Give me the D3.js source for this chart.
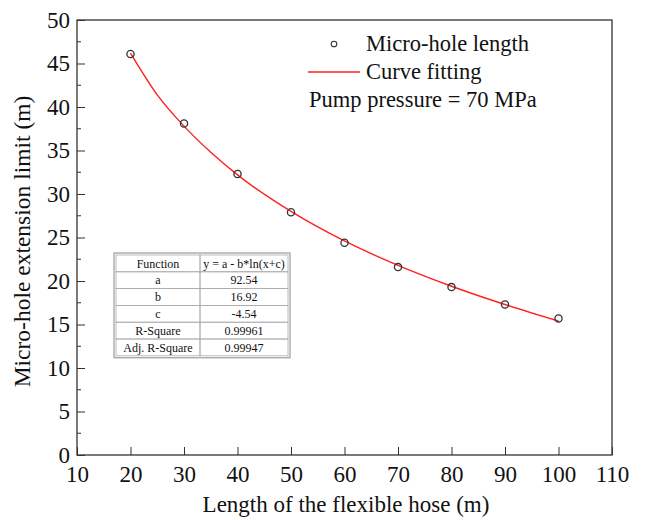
<!DOCTYPE html>
<html>
<head>
<meta charset="utf-8">
<script src="https://cdn.jsdelivr.net/npm/d3@7"></script>
<style>
  body { margin: 0; background: #fff; }
  svg text { font-family: "Liberation Serif", "DejaVu Serif", serif !important; fill: #111; }
</style>
</head>
<body>
<div id="chart"></div>
<script>
// measured points
const hoseLength = [20, 30, 40, 50, 60, 70, 80, 90, 100];
const holeLength = [46.1, 38.1, 32.3, 27.9, 24.4, 21.6, 19.3, 17.3, 15.7];
// fitted curve
const fitX = [20, 25, 30, 35, 40, 50, 60, 70, 80, 90, 100];
const fitY = [46.2, 41.4, 37.8, 34.8, 32.2, 28.0, 24.6, 21.8, 19.4, 17.3, 15.4];
const xTicks = [10, 20, 30, 40, 50, 60, 70, 80, 90, 100, 110];
const yTicks = [0, 5, 10, 15, 20, 25, 30, 35, 40, 45, 50];
const tableRows = [
  ["Function", "y = a - b*ln(x+c)"],
  ["a", "92.54"],
  ["b", "16.92"],
  ["c", "-4.54"],
  ["R-Square", "0.99961"],
  ["Adj. R-Square", "0.99947"]
];

const W = 646, H = 520;
const margin = { left: 77, right: 34, top: 20, bottom: 65 };
const innerW = W - margin.left - margin.right;
const innerH = H - margin.top - margin.bottom;

const svg = d3.select("#chart").append("svg").attr("width", W).attr("height", H);
const g = svg.append("g").attr("transform", `translate(${margin.left},${margin.top})`);

const x = d3.scaleLinear().domain([10, 110]).range([0, innerW]);
const y = d3.scaleLinear().domain([0, 50]).range([innerH, 0]);

// axes with inward ticks
const xAxis = g.append("g").attr("transform", `translate(0,${innerH})`)
  .call(d3.axisBottom(x).tickValues(xTicks).tickSizeInner(-8).tickSizeOuter(0).tickPadding(11));
const yAxis = g.append("g")
  .call(d3.axisLeft(y).tickValues(yTicks).tickSizeInner(-8).tickSizeOuter(0).tickPadding(7));
// minor y ticks
g.append("g")
  .selectAll("line")
  .data(d3.range(2.5, 50, 5))
  .join("line")
  .attr("x1", 0).attr("x2", 4)
  .attr("y1", (d) => y(d)).attr("y2", (d) => y(d))
  .attr("stroke", "#333");

[xAxis, yAxis].forEach((a) => {
  a.attr("font-family", null);
  a.select(".domain").remove();
  a.selectAll("line").attr("stroke", "#333");
  a.selectAll("text").attr("font-size", 23).attr("fill", "#111");
});
xAxis.selectAll("text").attr("dy", "0.7em");

// frame
g.append("rect").attr("width", innerW).attr("height", innerH)
  .attr("fill", "none").attr("stroke", "#333").attr("stroke-width", 1.3);

// fitted curve
const line = d3.line().x((d) => x(d[0])).y((d) => y(d[1])).curve(d3.curveMonotoneX);
g.append("path")
  .datum(fitX.map((d, i) => [d, fitY[i]]))
  .attr("d", line)
  .attr("fill", "none")
  .attr("stroke", "#ff2020")
  .attr("stroke-width", 1.4);

// points
g.append("g")
  .selectAll("circle")
  .data(hoseLength.map((d, i) => [d, holeLength[i]]))
  .join("circle")
  .attr("cx", (d) => x(d[0]))
  .attr("cy", (d) => y(d[1]))
  .attr("r", 3.6)
  .attr("fill", "none")
  .attr("stroke", "#333")
  .attr("stroke-width", 1.3);

// legend
const leg = svg.append("g");
leg.append("circle").attr("cx", 334).attr("cy", 44).attr("r", 2.8)
  .attr("fill", "none").attr("stroke", "#333").attr("stroke-width", 1.1);
leg.append("text").attr("x", 366).attr("y", 51).attr("font-size", 22.5).text("Micro-hole length");
leg.append("line").attr("x1", 308).attr("x2", 360).attr("y1", 72).attr("y2", 72)
  .attr("stroke", "#ff2020").attr("stroke-width", 1.4);
leg.append("text").attr("x", 366).attr("y", 79).attr("font-size", 22.5).text("Curve fitting");
leg.append("text").attr("x", 309).attr("y", 107).attr("font-size", 22.5).text("Pump pressure = 70 MPa");

// parameter table
const tbl = svg.append("g").attr("transform", "translate(116,255)");
const colW = [84, 88], rowH = 16.8;
tbl.append("rect").attr("x", -2).attr("y", -2)
  .attr("width", colW[0] + colW[1] + 4).attr("height", rowH * tableRows.length + 4)
  .attr("fill", "#fff").attr("stroke", "#888");
tableRows.forEach((r, i) => {
  r.forEach((t, j) => {
    const cx = j === 0 ? 0 : colW[0];
    tbl.append("rect").attr("x", cx).attr("y", i * rowH)
      .attr("width", colW[j]).attr("height", rowH)
      .attr("fill", "none").attr("stroke", "#aaa").attr("stroke-width", 0.8);
    tbl.append("text").attr("x", cx + colW[j] / 2).attr("y", i * rowH + rowH / 2)
      .attr("dy", "0.35em").attr("text-anchor", "middle").attr("font-size", 12).text(t);
  });
});

// axis titles
svg.append("text").attr("x", 346).attr("y", 512)
  .attr("text-anchor", "middle").attr("font-size", 23).text("Length of the flexible hose (m)");
svg.append("text").attr("transform", `translate(30,${margin.top + innerH / 2 + 4}) rotate(-90)`)
  .attr("text-anchor", "middle").attr("font-size", 23.5).text("Micro-hole extension limit (m)");
</script>
</body>
</html>
